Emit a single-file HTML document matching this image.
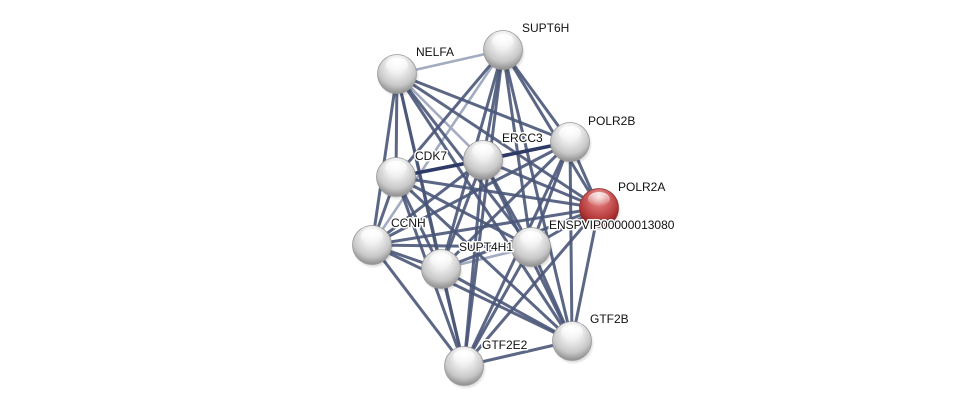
<!DOCTYPE html>
<html><head><meta charset="utf-8"><style>
html,body{margin:0;padding:0;background:#fff;}
svg{display:block;}
text{font-family:"Liberation Sans",Arial,sans-serif;font-size:12px;fill:#111;paint-order:stroke;stroke:#fff;stroke-width:3px;stroke-linejoin:round;}
</style></head><body>
<svg width="976" height="411" viewBox="0 0 976 411" xmlns="http://www.w3.org/2000/svg">
<defs>
<radialGradient id="g" cx="50%" cy="35%" r="65%" fx="50%" fy="20%">
<stop offset="0" stop-color="#ffffff"/>
<stop offset="0.35" stop-color="#f0f0f0"/>
<stop offset="0.75" stop-color="#c8c8c8"/>
<stop offset="1" stop-color="#8e8e8e"/>
</radialGradient>
<radialGradient id="r" cx="50%" cy="35%" r="65%" fx="50%" fy="20%">
<stop offset="0" stop-color="#f6d0d0"/>
<stop offset="0.35" stop-color="#d66a6a"/>
<stop offset="0.75" stop-color="#b43838"/>
<stop offset="1" stop-color="#7a1c1c"/>
</radialGradient>
<linearGradient id="hl" x1="0" y1="0" x2="0" y2="1">
<stop offset="0" stop-color="#fff" stop-opacity="0.95"/>
<stop offset="1" stop-color="#fff" stop-opacity="0"/>
</linearGradient>
<radialGradient id="sh" cx="50%" cy="50%" r="50%">
<stop offset="0.7" stop-color="#000" stop-opacity="0.25"/>
<stop offset="1" stop-color="#000" stop-opacity="0"/>
</radialGradient>
</defs>
<g fill="none">
<g stroke="#a3abc0" stroke-width="2.6">
<line x1="397" y1="74" x2="503" y2="50"/>
<line x1="397" y1="74" x2="483" y2="160"/>
<line x1="503" y1="50" x2="372" y2="245"/>
<line x1="441" y1="269" x2="531" y2="247"/>
</g>
<g stroke="#4a5679" stroke-width="3" stroke-opacity="0.9">
<line x1="397" y1="74" x2="396" y2="177"/>
<line x1="397" y1="74" x2="372" y2="245"/>
<line x1="397" y1="74" x2="441" y2="269"/>
<line x1="397" y1="74" x2="464" y2="366"/>
<line x1="397" y1="74" x2="531" y2="247"/>
<line x1="397" y1="74" x2="570" y2="142"/>
<line x1="397" y1="74" x2="599" y2="208"/>
<line x1="397" y1="74" x2="572" y2="341"/>
<line x1="503" y1="50" x2="570" y2="142"/>
<line x1="503" y1="50" x2="599" y2="208"/>
<line x1="503" y1="50" x2="531" y2="247"/>
<line x1="503" y1="50" x2="483" y2="160"/>
<line x1="503" y1="50" x2="441" y2="269"/>
<line x1="503" y1="50" x2="396" y2="177"/>
<line x1="503" y1="50" x2="464" y2="366"/>
<line x1="503" y1="50" x2="572" y2="341"/>
<line x1="396" y1="177" x2="570" y2="142"/>
<line x1="396" y1="177" x2="599" y2="208"/>
<line x1="396" y1="177" x2="372" y2="245"/>
<line x1="396" y1="177" x2="441" y2="269"/>
<line x1="396" y1="177" x2="531" y2="247"/>
<line x1="396" y1="177" x2="464" y2="366"/>
<line x1="396" y1="177" x2="572" y2="341"/>
<line x1="483" y1="160" x2="599" y2="208"/>
<line x1="483" y1="160" x2="531" y2="247"/>
<line x1="483" y1="160" x2="441" y2="269"/>
<line x1="483" y1="160" x2="372" y2="245"/>
<line x1="483" y1="160" x2="464" y2="366"/>
<line x1="483" y1="160" x2="572" y2="341"/>
<line x1="570" y1="142" x2="599" y2="208"/>
<line x1="570" y1="142" x2="531" y2="247"/>
<line x1="570" y1="142" x2="441" y2="269"/>
<line x1="570" y1="142" x2="372" y2="245"/>
<line x1="570" y1="142" x2="464" y2="366"/>
<line x1="570" y1="142" x2="572" y2="341"/>
<line x1="599" y1="208" x2="531" y2="247"/>
<line x1="599" y1="208" x2="372" y2="245"/>
<line x1="599" y1="208" x2="441" y2="269"/>
<line x1="599" y1="208" x2="464" y2="366"/>
<line x1="599" y1="208" x2="572" y2="341"/>
<line x1="372" y1="245" x2="441" y2="269"/>
<line x1="372" y1="245" x2="531" y2="247"/>
<line x1="372" y1="245" x2="464" y2="366"/>
<line x1="372" y1="245" x2="572" y2="341"/>
<line x1="441" y1="269" x2="464" y2="366"/>
<line x1="441" y1="269" x2="572" y2="341"/>
<line x1="531" y1="247" x2="464" y2="366"/>
<line x1="531" y1="247" x2="572" y2="341"/>
<line x1="464" y1="366" x2="572" y2="341"/>
</g>
<g stroke="#2e3b66" stroke-width="3.6">
<line x1="396" y1="177" x2="483" y2="160"/>
<line x1="483" y1="160" x2="570" y2="142"/>
</g>
</g>
<g transform="translate(503,50)"><circle cx="1.5" cy="2.5" r="21" fill="url(#sh)"/><circle r="19.5" fill="url(#g)" stroke="#9a9a9a" stroke-width="0.8"/><ellipse cx="0" cy="-9" rx="11" ry="7" fill="url(#hl)"/></g>
<g transform="translate(397,74)"><circle cx="1.5" cy="2.5" r="21" fill="url(#sh)"/><circle r="19.5" fill="url(#g)" stroke="#9a9a9a" stroke-width="0.8"/><ellipse cx="0" cy="-9" rx="11" ry="7" fill="url(#hl)"/></g>
<g transform="translate(570,142)"><circle cx="1.5" cy="2.5" r="21" fill="url(#sh)"/><circle r="19.5" fill="url(#g)" stroke="#9a9a9a" stroke-width="0.8"/><ellipse cx="0" cy="-9" rx="11" ry="7" fill="url(#hl)"/></g>
<g transform="translate(483,160)"><circle cx="1.5" cy="2.5" r="21" fill="url(#sh)"/><circle r="19.5" fill="url(#g)" stroke="#9a9a9a" stroke-width="0.8"/><ellipse cx="0" cy="-9" rx="11" ry="7" fill="url(#hl)"/></g>
<g transform="translate(396,177)"><circle cx="1.5" cy="2.5" r="21" fill="url(#sh)"/><circle r="19.5" fill="url(#g)" stroke="#9a9a9a" stroke-width="0.8"/><ellipse cx="0" cy="-9" rx="11" ry="7" fill="url(#hl)"/></g>
<g transform="translate(599,208)"><circle cx="1.5" cy="2.5" r="21" fill="url(#sh)"/><circle r="19.5" fill="url(#r)" stroke="#8a3030" stroke-width="0.8"/><ellipse cx="0" cy="-9" rx="11" ry="7" fill="url(#hl)" opacity="0.8"/></g>
<g transform="translate(372,245)"><circle cx="1.5" cy="2.5" r="21" fill="url(#sh)"/><circle r="19.5" fill="url(#g)" stroke="#9a9a9a" stroke-width="0.8"/><ellipse cx="0" cy="-9" rx="11" ry="7" fill="url(#hl)"/></g>
<g transform="translate(441,269)"><circle cx="1.5" cy="2.5" r="21" fill="url(#sh)"/><circle r="19.5" fill="url(#g)" stroke="#9a9a9a" stroke-width="0.8"/><ellipse cx="0" cy="-9" rx="11" ry="7" fill="url(#hl)"/></g>
<g transform="translate(531,247)"><circle cx="1.5" cy="2.5" r="21" fill="url(#sh)"/><circle r="19.5" fill="url(#g)" stroke="#9a9a9a" stroke-width="0.8"/><ellipse cx="0" cy="-9" rx="11" ry="7" fill="url(#hl)"/></g>
<g transform="translate(572,341)"><circle cx="1.5" cy="2.5" r="21" fill="url(#sh)"/><circle r="19.5" fill="url(#g)" stroke="#9a9a9a" stroke-width="0.8"/><ellipse cx="0" cy="-9" rx="11" ry="7" fill="url(#hl)"/></g>
<g transform="translate(464,366)"><circle cx="1.5" cy="2.5" r="21" fill="url(#sh)"/><circle r="19.5" fill="url(#g)" stroke="#9a9a9a" stroke-width="0.8"/><ellipse cx="0" cy="-9" rx="11" ry="7" fill="url(#hl)"/></g>
<text x="522" y="32">SUPT6H</text>
<text x="416" y="56">NELFA</text>
<text x="588" y="125">POLR2B</text>
<text x="502" y="142">ERCC3</text>
<text x="415" y="160">CDK7</text>
<text x="618" y="191">POLR2A</text>
<text x="391" y="227">CCNH</text>
<text x="459" y="251">SUPT4H1</text>
<text x="549" y="229">ENSPVIP00000013080</text>
<text x="590" y="323">GTF2B</text>
<text x="482" y="349">GTF2E2</text>
</svg>
</body></html>
